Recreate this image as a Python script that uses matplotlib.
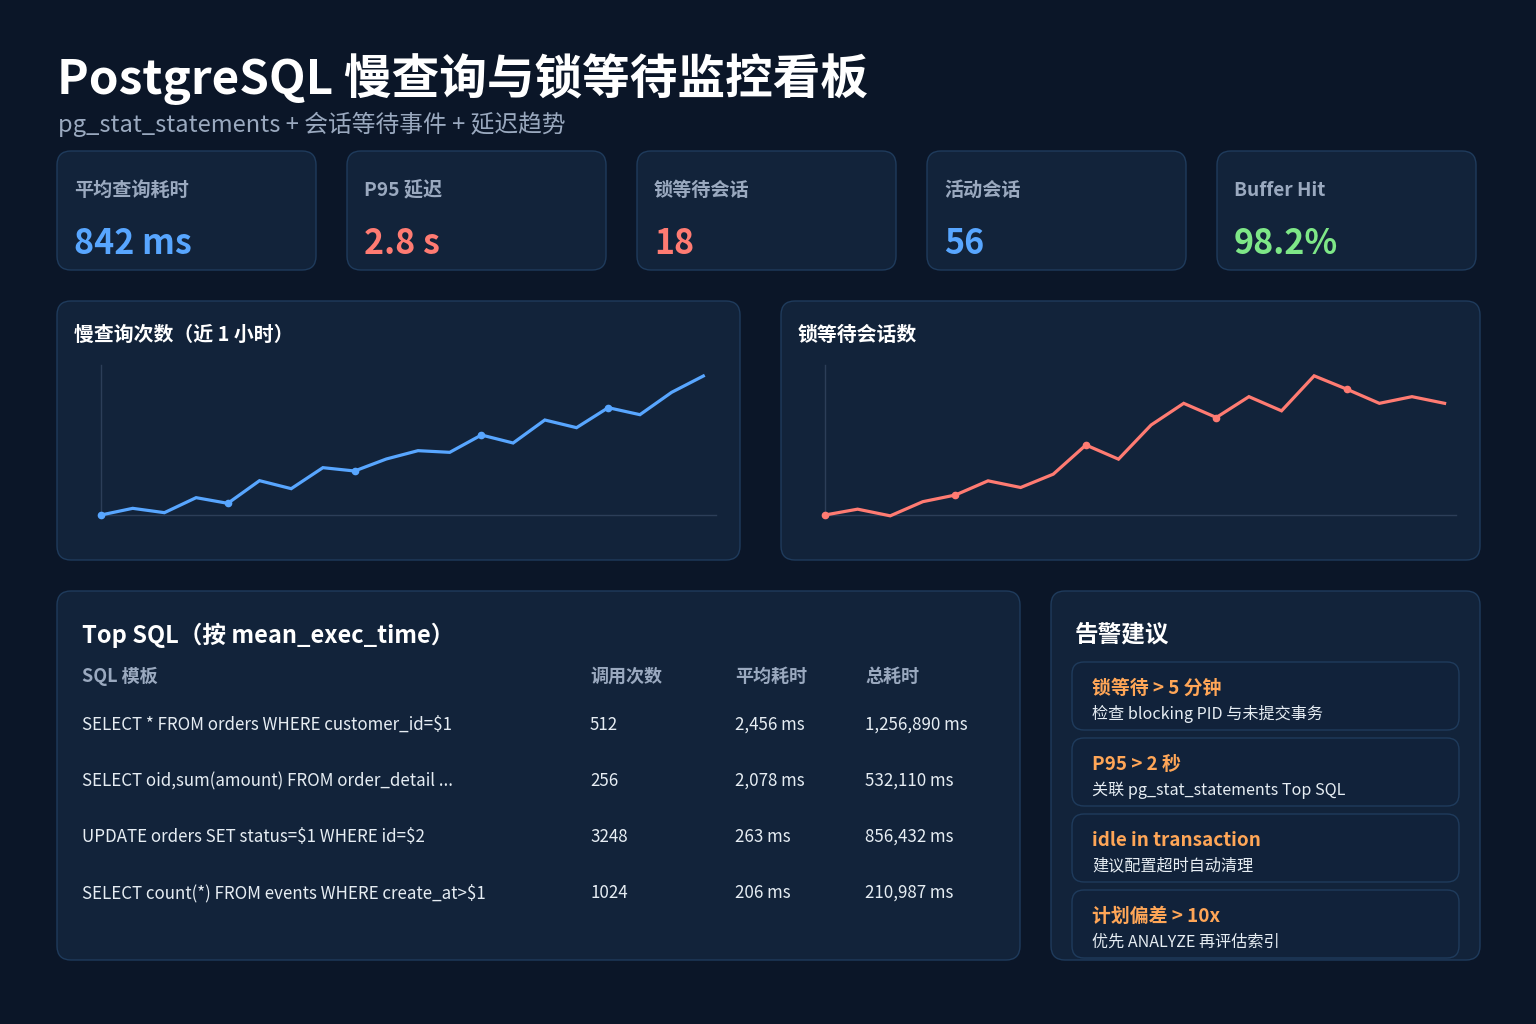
import matplotlib
matplotlib.use("Agg")
import matplotlib.pyplot as plt
from matplotlib.patches import FancyBboxPatch

plt.rcParams['font.family'] = ['Noto Sans CJK SC', 'DejaVu Sans']
plt.rcParams['text.parse_math'] = False

# ---------------- data ----------------
title = "PostgreSQL 慢查询与锁等待监控看板"
subtitle = "pg_stat_statements + 会话等待事件 + 延迟趋势"

kpi_labels = ["平均查询耗时", "P95 延迟", "锁等待会话", "活动会话", "Buffer Hit"]
kpi_values = ["842 ms", "2.8 s", "18", "56", "98.2%"]
kpi_colors = ["#58a6ff", "#ff7b72", "#ff7b72", "#58a6ff", "#7ee787"]

chart1_title = "慢查询次数（近 1 小时）"
slow_query_counts = [12.0, 14.0, 12.7, 17.2, 15.5, 22.3, 19.9, 26.2, 25.2, 28.8,
                     31.3, 30.8, 36.0, 33.6, 40.5, 38.2, 44.2, 42.1, 48.8, 53.7]
chart2_title = "锁等待会话数"
lock_wait_sessions = [2.0, 2.7, 1.9, 3.6, 4.4, 6.1, 5.3, 6.9, 10.4, 8.7,
                      12.8, 15.4, 13.7, 16.2, 14.5, 18.7, 17.1, 15.4, 16.2, 15.4]
minutes = list(range(len(slow_query_counts)))

table_title = "Top SQL（按 mean_exec_time）"
table_headers = ["SQL 模板", "调用次数", "平均耗时", "总耗时"]
sql_templates = ["SELECT * FROM orders WHERE customer_id=$1",
                 "SELECT oid,sum(amount) FROM order_detail ...",
                 "UPDATE orders SET status=$1 WHERE id=$2",
                 "SELECT count(*) FROM events WHERE create_at>$1"]
call_counts = ["512", "256", "3248", "1024"]
mean_times = ["2,456 ms", "2,078 ms", "263 ms", "206 ms"]
total_times = ["1,256,890 ms", "532,110 ms", "856,432 ms", "210,987 ms"]

alert_title = "告警建议"
alert_titles = ["锁等待 > 5 分钟", "P95 > 2 秒", "idle in transaction", "计划偏差 > 10x"]
alert_descs = ["检查 blocking PID 与未提交事务",
               "关联 pg_stat_statements Top SQL",
               "建议配置超时自动清理",
               "优先 ANALYZE 再评估索引"]

# ---------------- style ----------------
BG = "#0b1628"
PANEL = "#12233a"
BORDER = "#1f3b5c"
WHITE = "#ffffff"
MUTED = "#9aa9bf"
TEXT = "#e6edf3"
ORANGE = "#ffa657"
AXIS = "#2c3e58"

W, H = 1536, 1024
fig = plt.figure(figsize=(W / 100, H / 100), dpi=100, facecolor=BG)
bg = fig.add_axes([0, 0, 1, 1])
bg.set_xlim(0, W)
bg.set_ylim(H, 0)
bg.axis("off")
bg.set_facecolor(BG)


def panel(x0, y0, x1, y1, r=14, fc=PANEL, ec=BORDER):
    p = FancyBboxPatch((x0, y0), x1 - x0, y1 - y0,
                       boxstyle=f"round,pad=0,rounding_size={r}",
                       fc=fc, ec=ec, lw=1.0)
    bg.add_patch(p)


# title
bg.text(57, 79, title, color=WHITE, fontsize=34.3, fontweight="bold", va="center", ha="left")
bg.text(58, 124, subtitle, color=MUTED, fontsize=17.1, va="center", ha="left")

# KPI cards
for i, (lab, val, col) in enumerate(zip(kpi_labels, kpi_values, kpi_colors)):
    x0 = 57 + i * 290
    panel(x0, 151, x0 + 259, 270)
    bg.text(x0 + 17, 190, lab, color=MUTED, fontsize=13.8, fontweight="bold", va="center")
    bg.text(x0 + 17, 244, val, color=col, fontsize=24.5, fontweight="bold", va="center")

# chart panels
panel(57, 301, 740, 560)
panel(781, 301, 1480, 560)
bg.text(74, 334, chart1_title, color=WHITE, fontsize=14.3, fontweight="bold", va="center")
bg.text(798, 334, chart2_title, color=WHITE, fontsize=14.3, fontweight="bold", va="center")


def line_axes(x0, x1, y_top, y_bot, data, color, ylim, xmax):
    ax = fig.add_axes([x0 / W, 1 - y_bot / H, (x1 - x0) / W, (y_bot - y_top) / H])
    ax.set_facecolor("none")
    ax.plot(minutes, data, color=color, lw=2.3, clip_on=False,
            marker="o", markevery=4, ms=4.5, solid_joinstyle="miter")
    ax.set_xlim(0, xmax)
    ax.set_ylim(*ylim)
    for s in ["top", "right"]:
        ax.spines[s].set_visible(False)
    for s in ["left", "bottom"]:
        ax.spines[s].set_color(AXIS)
        ax.spines[s].set_linewidth(1.0)
    ax.spines["left"].set_zorder(0)
    ax.spines["bottom"].set_zorder(0)
    ax.set_xticks([])
    ax.set_yticks([])
    return ax


line_axes(101, 716, 365, 515, slow_query_counts, "#58a6ff", (12, 57), 19.4)
line_axes(825, 1456, 365, 515, lock_wait_sessions, "#ff7b72", (2, 20), 19.35)

# table panel
panel(57, 591, 1020, 960)
bg.text(82, 635, table_title, color=WHITE, fontsize=17, fontweight="bold", va="center")
col_x = [82, 590, 735, 865]
for cx, h in zip(col_x, table_headers):
    bg.text(cx, 676, h, color=MUTED, fontsize=13, fontweight="bold", va="center")
for r, row in enumerate(zip(sql_templates, call_counts, mean_times, total_times)):
    y = 725 + r * 56
    for cx, cell in zip(col_x, row):
        bg.text(cx, y, cell, color=TEXT, fontsize=12.2, va="center")

# alert panel
panel(1051, 591, 1480, 960)
bg.text(1075, 635, alert_title, color=WHITE, fontsize=17, fontweight="bold", va="center")
for i, (t, d) in enumerate(zip(alert_titles, alert_descs)):
    y0 = 662 + i * 76
    panel(1072, y0, 1459, y0 + 68, r=12, fc="#11223a")
    bg.text(1092, y0 + 26, t, color=ORANGE, fontsize=13.6, fontweight="bold", va="center")
    bg.text(1092, y0 + 52, d, color=TEXT, fontsize=11.6, va="center")

fig.savefig("out.png", dpi=100, facecolor=BG)
